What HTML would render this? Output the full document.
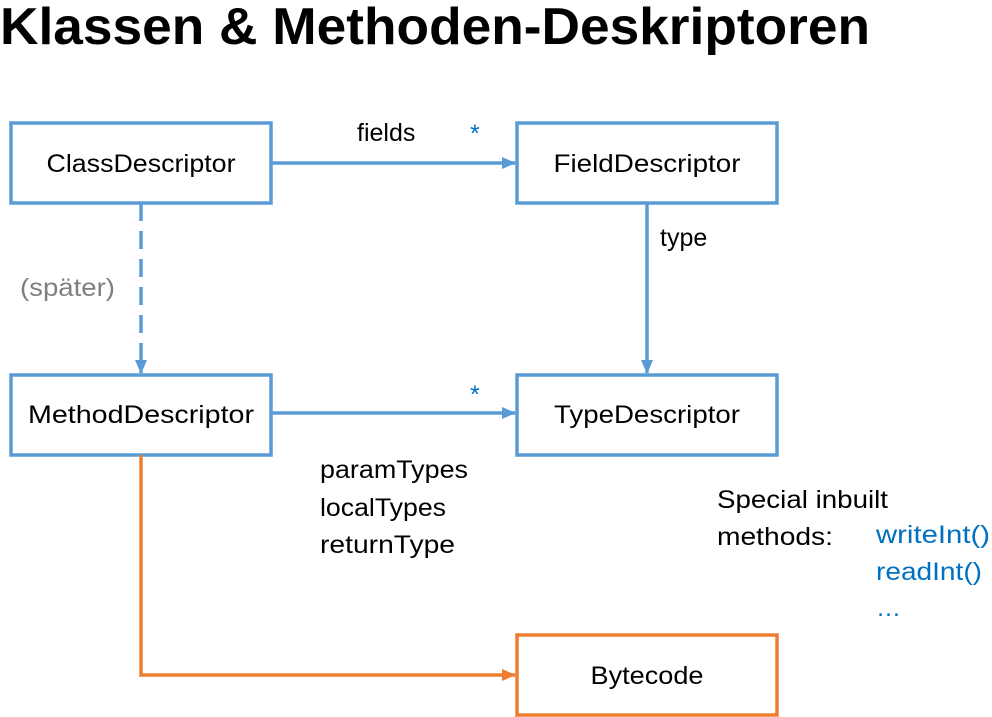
<!DOCTYPE html>
<html><head><meta charset="utf-8"><style>
html,body{margin:0;padding:0;background:#fff;width:992px;height:717px;overflow:hidden}
svg{display:block}
text{font-family:"Liberation Sans",sans-serif}
</style></head><body>
<svg width="992" height="717" viewBox="0 0 992 717">
<defs>
<marker id="ab" markerWidth="14" markerHeight="14" refX="13" refY="7" orient="auto" markerUnits="userSpaceOnUse" viewBox="0 0 14 14"><path d="M0,1 L14,7 L0,13 z" fill="#5B9BD5"/></marker>
<marker id="ao" markerWidth="14" markerHeight="14" refX="13" refY="7" orient="auto" markerUnits="userSpaceOnUse" viewBox="0 0 14 14"><path d="M0,1 L14,7 L0,13 z" fill="#ED7D31"/></marker>
</defs>
<text x="0" y="44" font-size="52" font-weight="bold" fill="#000" textLength="870" lengthAdjust="spacingAndGlyphs">Klassen &amp; Methoden-Deskriptoren</text>
<g fill="none" stroke="#5B9BD5" stroke-width="3.5">
<rect x="11" y="123" width="260" height="80"/>
<rect x="517" y="123" width="260" height="80"/>
<rect x="11" y="375" width="260" height="80"/>
<rect x="517" y="375" width="260" height="80"/>
<line x1="271" y1="163" x2="515" y2="163" marker-end="url(#ab)"/>
<line x1="647" y1="203" x2="647" y2="373" marker-end="url(#ab)"/>
<line x1="141" y1="203" x2="141" y2="373" stroke-dasharray="18,10" marker-end="url(#ab)"/>
<line x1="271" y1="413" x2="515" y2="413" marker-end="url(#ab)"/>
</g>
<g fill="none" stroke="#ED7D31" stroke-width="3.5">
<rect x="517" y="635" width="260" height="80"/>
<polyline points="141,455 141,675 515,675" marker-end="url(#ao)"/>
</g>
<g font-size="25" fill="#000" text-anchor="middle">
<text x="141" y="172" textLength="189" lengthAdjust="spacingAndGlyphs">ClassDescriptor</text>
<text x="647" y="172" textLength="187" lengthAdjust="spacingAndGlyphs">FieldDescriptor</text>
<text x="141" y="423" textLength="226" lengthAdjust="spacingAndGlyphs">MethodDescriptor</text>
<text x="647" y="423" textLength="186" lengthAdjust="spacingAndGlyphs">TypeDescriptor</text>
<text x="647" y="684" textLength="113" lengthAdjust="spacingAndGlyphs">Bytecode</text>
</g>
<g font-size="25" fill="#000">
<text x="357" y="141">fields</text>
<text x="660" y="246">type</text>
<text x="320" y="478" textLength="148" lengthAdjust="spacingAndGlyphs">paramTypes</text>
<text x="320" y="516" textLength="126" lengthAdjust="spacingAndGlyphs">localTypes</text>
<text x="320" y="553" textLength="135" lengthAdjust="spacingAndGlyphs">returnType</text>
<text x="717" y="508" textLength="171" lengthAdjust="spacingAndGlyphs">Special inbuilt</text>
<text x="717" y="545" textLength="116" lengthAdjust="spacingAndGlyphs">methods:</text>
</g>
<text x="20" y="296" font-size="25" fill="#7F7F7F" textLength="95" lengthAdjust="spacingAndGlyphs">(später)</text>
<g font-size="25" fill="#0070C0">
<text x="470" y="142">*</text>
<text x="470" y="403">*</text>
<text x="876" y="543" textLength="114" lengthAdjust="spacingAndGlyphs">writeInt()</text>
<text x="876" y="580" textLength="106" lengthAdjust="spacingAndGlyphs">readInt()</text>
<text x="876" y="616">…</text>
</g>
</svg>
</body></html>
